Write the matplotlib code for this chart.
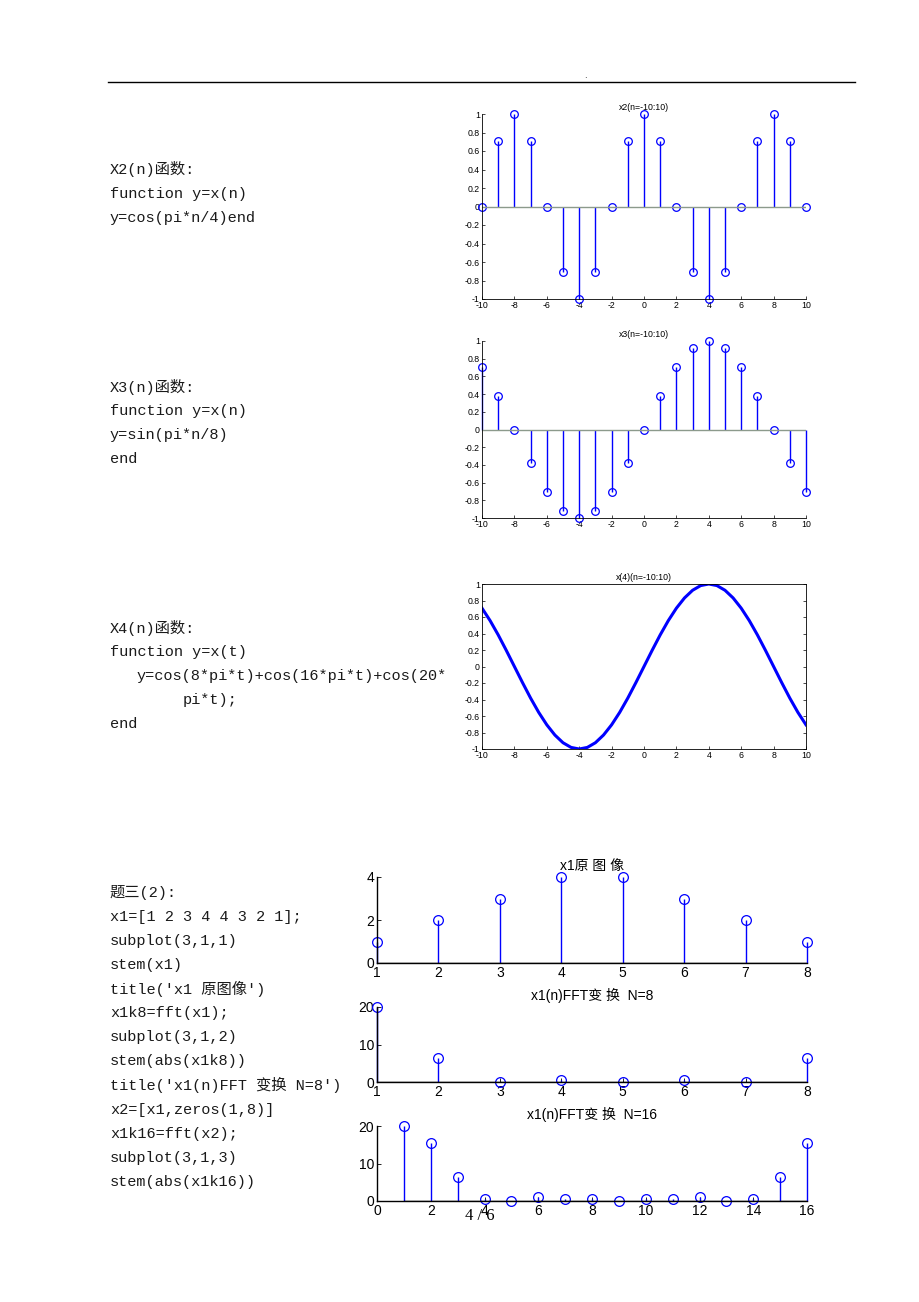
import numpy as np
import matplotlib
matplotlib.use('Agg')
import matplotlib.pyplot as plt

plt.rcParams['axes.unicode_minus'] = False

# ---- data ----
n_vals = list(range(-10, 11))
x2_vals = [0, 0.707, 1, 0.707, 0, -0.707, -1, -0.707, 0, 0.707, 1,
           0.707, 0, -0.707, -1, -0.707, 0, 0.707, 1, 0.707, 0]
x3_vals = [0.707, 0.383, 0, -0.383, -0.707, -0.924, -1, -0.924, -0.707, -0.383, 0,
           0.383, 0.707, 0.924, 1, 0.924, 0.707, 0.383, 0, -0.383, -0.707]
t_vals = [-10 + 0.5 * i for i in range(41)]
x4_vals = [0.707, 0.556, 0.383, 0.195, 0, -0.195, -0.383, -0.556, -0.707, -0.831,
           -0.924, -0.981, -1, -0.981, -0.924, -0.831, -0.707, -0.556, -0.383, -0.195,
           0, 0.195, 0.383, 0.556, 0.707, 0.831, 0.924, 0.981, 1, 0.981,
           0.924, 0.831, 0.707, 0.556, 0.383, 0.195, 0, -0.195, -0.383, -0.556, -0.707]

k8 = list(range(1, 9))
x1_vals = [1, 2, 3, 4, 4, 3, 2, 1]
fft8_vals = [20, 6.3, 0, 0.45, 0, 0.45, 0, 6.3]
k16 = list(range(1, 17))
fft16_vals = [20, 15.4, 6.3, 0.5, 0, 1.2, 0.45, 0.5, 0, 0.5, 0.45, 1.2, 0, 0.5, 6.3, 15.4]

text_blocks = [
    (110, 169, "X2(n)函数:"),
    (110, 194, "function y=x(n)"),
    (110, 218, "y=cos(pi*n/4)end"),
    (110, 387, "X3(n)函数:"),
    (110, 411, "function y=x(n)"),
    (110, 435, "y=sin(pi*n/8)"),
    (110, 459, "end"),
    (110, 628, "X4(n)函数:"),
    (110, 652, "function y=x(t)"),
    (137, 676, "y=cos(8*pi*t)+cos(16*pi*t)+cos(20*"),
    (183, 700, "pi*t);"),
    (110, 724, "end"),
    (110, 893, "题三(2):"),
    (110, 917, "x1=[1 2 3 4 4 3 2 1];"),
    (110, 941, "subplot(3,1,1)"),
    (110, 965, "stem(x1)"),
    (110, 989, "title('x1 原图像')"),
    (110, 1013, "x1k8=fft(x1);"),
    (110, 1037, "subplot(3,1,2)"),
    (110, 1061, "stem(abs(x1k8))"),
    (110, 1085, "title('x1(n)FFT 变换 N=8')"),
    (110, 1110, "x2=[x1,zeros(1,8)]"),
    (110, 1134, "x1k16=fft(x2);"),
    (110, 1158, "subplot(3,1,3)"),
    (110, 1182, "stem(abs(x1k16))"),
]

W, H = 920, 1302
fig = plt.figure(figsize=(W / 100, H / 100), dpi=100)
fig.patch.set_facecolor('white')

SANS = ['Liberation Sans', 'Noto Sans CJK SC']
MONO = ['Liberation Mono', 'Noto Sans CJK SC']


def box(x0, y0, x1, y1):
    # pixel box (top-left origin) -> figure fraction rect
    return [x0 / W, 1 - y1 / H, (x1 - x0) / W, (y1 - y0) / H]


def style_small(ax, full_box=False):
    for s in ['top', 'right']:
        ax.spines[s].set_visible(full_box)
    for s in ax.spines.values():
        s.set_linewidth(0.6)
    ax.tick_params(direction='in', length=2.5, width=0.5, labelsize=6.3, pad=1.5,
                   right=full_box, top=False)
    for lab in ax.get_xticklabels() + ax.get_yticklabels():
        lab.set_family(SANS)


def stem_plot(ax, x, y, ms, base_color):
    ml, sl, bl = ax.stem(x, y, linefmt='b-', markerfmt='bo', basefmt='-')
    ml.set_markerfacecolor('none')
    ml.set_markeredgecolor('blue')
    ml.set_markersize(ms)
    ml.set_markeredgewidth(0.9)
    ml.set_clip_on(False)
    sl.set_linewidth(1.0)
    sl.set_clip_on(False)
    bl.set_color(base_color)
    bl.set_linewidth(1.0)
    return ml


# header rule
fig.add_artist(plt.Line2D([108 / W, 855 / W], [1 - 82 / H, 1 - 82 / H], color='black', lw=1))
fig.text(585 / W, 1 - 76 / H, '.', fontsize=6, ha='center', va='center')

yt = [-1, -0.8, -0.6, -0.4, -0.2, 0, 0.2, 0.4, 0.6, 0.8, 1]
ytl = ['-1', '-0.8', '-0.6', '-0.4', '-0.2', '0', '0.2', '0.4', '0.6', '0.8', '1']
xt = list(range(-10, 11, 2))

# x2
ax1 = fig.add_axes(box(482, 114, 806, 299))
stem_plot(ax1, n_vals, x2_vals, 5.5, '#8c9a8c')
ax1.set_xlim(-10, 10)
ax1.set_ylim(-1, 1)
ax1.set_xticks(xt)
ax1.set_yticks(yt, ytl)
ax1.set_title('x2(n=-10:10)', fontsize=6.3, family=SANS, pad=3)
style_small(ax1)

# x3
ax2 = fig.add_axes(box(482, 341, 806, 518))
stem_plot(ax2, n_vals, x3_vals, 5.5, '#8c9a8c')
ax2.set_xlim(-10, 10)
ax2.set_ylim(-1, 1)
ax2.set_xticks(xt)
ax2.set_yticks(yt, ytl)
ax2.set_title('x3(n=-10:10)', fontsize=6.3, family=SANS, pad=3)
style_small(ax2)

# x4
ax3 = fig.add_axes(box(482, 584, 806, 749))
ax3.plot(t_vals, x4_vals, color='blue', lw=2.2)
ax3.set_xlim(-10, 10)
ax3.set_ylim(-1, 1)
ax3.set_xticks(xt)
ax3.set_yticks(yt, ytl)
ax3.set_title('x(4)(n=-10:10)', fontsize=6.3, family=SANS, pad=3)
style_small(ax3, full_box=True)


def style_big(ax):
    for s in ['top', 'right']:
        ax.spines[s].set_visible(False)
    for s in ax.spines.values():
        s.set_linewidth(1.0)
    ax.tick_params(direction='in', length=3, width=0.6, labelsize=10, pad=2)
    for lab in ax.get_xticklabels() + ax.get_yticklabels():
        lab.set_family(SANS)


# x1 original
ax4 = fig.add_axes(box(377, 877, 807, 963))
stem_plot(ax4, k8, x1_vals, 7, 'black')
ax4.set_xlim(1, 8)
ax4.set_ylim(0, 4)
ax4.set_xticks(k8)
ax4.set_yticks([0, 2, 4])
ax4.set_title('x1原 图 像', fontsize=10, family=SANS, pad=5)
style_big(ax4)

# fft N=8
ax5 = fig.add_axes(box(377, 1007, 807, 1082))
stem_plot(ax5, k8, fft8_vals, 7, 'black')
ax5.set_xlim(1, 8)
ax5.set_ylim(0, 20)
ax5.set_xticks(k8)
ax5.set_yticks([0, 10, 20])
ax5.set_title('x1(n)FFT变 换  N=8', fontsize=10, family=SANS, pad=5)
style_big(ax5)

# fft N=16
ax6 = fig.add_axes(box(377, 1126, 807, 1201))
stem_plot(ax6, k16, fft16_vals, 7, 'black')
ax6.set_xlim(0, 16)
ax6.set_ylim(0, 20)
ax6.set_xticks(list(range(0, 17, 2)))
ax6.set_yticks([0, 10, 20])
ax6.set_title('x1(n)FFT变 换  N=16', fontsize=10, family=SANS, pad=5)
style_big(ax6)

# code text on the left
for x, y, s in text_blocks:
    fig.text(x / W, 1 - y / H, s, fontsize=11, family=MONO, ha='left', va='center',
             color='#1a1a1a')

# page number
fig.text(480 / W, 1 - 1216 / H, '4 / 6', fontsize=12, family=['Liberation Serif'],
         ha='center', va='center')

fig.savefig('out.png', dpi=100, facecolor='white')
